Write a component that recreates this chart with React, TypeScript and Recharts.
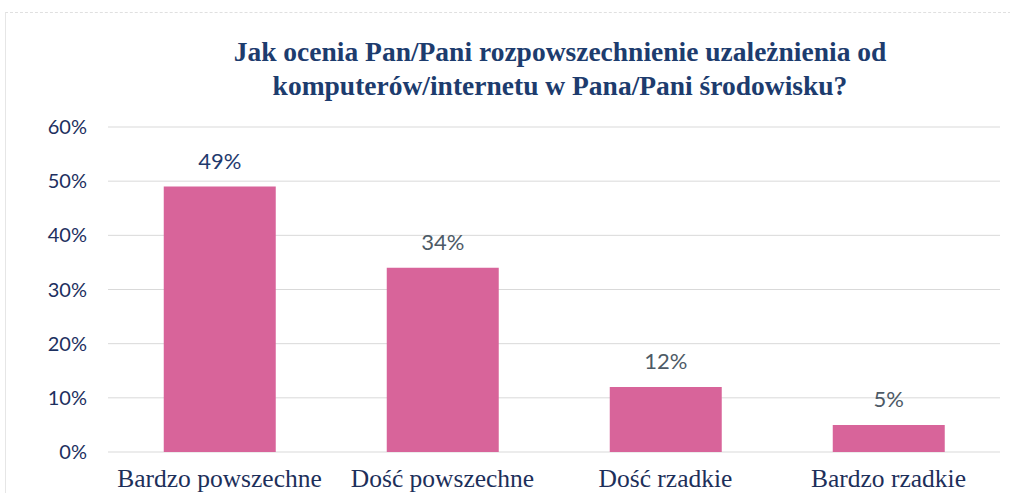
import React from "react";
import { BarChart, Bar, XAxis, YAxis, CartesianGrid, LabelList } from "recharts";

const categories = ["Bardzo powszechne", "Dość powszechne", "Dość rzadkie", "Bardzo rzadkie"];
const values = [49, 34, 12, 5];
const yTicks = [0, 10, 20, 30, 40, 50, 60];
const labelColors = ["#1f3a6e", "#4d5a66", "#4d5a66", "#4d5a66"];
const titleLines = [
  "Jak ocenia Pan/Pani rozpowszechnienie uzależnienia od",
  "komputerów/internetu w Pana/Pani środowisku?",
];

const data = categories.map((c, i) => ({ name: c, value: values[i] }));

const ValueLabel = (props: any) => {
  const { x, y, width, value, index } = props;
  return (
    <text
      x={x + width / 2}
      y={y - 18}
      textAnchor="middle"
      fontFamily="Lato, 'Noto Sans', sans-serif"
      fontSize={22}
      fill={labelColors[index] || "#4d5a66"}
    >
      {value}%
    </text>
  );
};

export default function App() {
  return (
    <div
      style={{
        position: "absolute",
        left: 0,
        top: 0,
        width: 1010,
        height: 493,
        background: "#fff",
        overflow: "hidden",
      }}
    >
      <div
        style={{
          position: "absolute",
          left: 5,
          top: 12,
          width: 1010,
          height: 490,
          borderLeft: "1px solid #e6e6e6",
          borderTop: "1px dashed #e0e0e0",
        }}
      />
      <div
        style={{
          position: "absolute",
          left: 60,
          width: 1000,
          top: 35,
          textAlign: "center",
          fontFamily: "'Liberation Serif', 'DejaVu Serif', serif",
          fontWeight: "bold",
          fontSize: 27.5,
          lineHeight: "34px",
          color: "#1d3c6e",
        }}
      >
        {titleLines.map((l, i) => (
          <div key={i}>{l}</div>
        ))}
      </div>
      <BarChart
        width={1010}
        height={493}
        data={data}
        margin={{ top: 127, right: 10, left: 0, bottom: 0 }}
        barCategoryGap="25%"
        style={{ position: "absolute", left: 0, top: 0 }}
      >
        <CartesianGrid horizontal vertical={false} stroke="#d9d9d9" />
        <XAxis
          dataKey="name"
          height={41}
          axisLine={false}
          tickLine={false}
          tickSize={0}
          tickMargin={17}
          interval={0}
          tick={{
            fill: "#1d2f5a",
            fontSize: 25.5,
            fontFamily: "'Liberation Serif', 'DejaVu Serif', serif",
          }}
        />
        <YAxis
          width={108}
          domain={[0, 60]}
          ticks={yTicks}
          axisLine={false}
          tickLine={false}
          tickSize={0}
          tickMargin={21}
          tickFormatter={(v: number) => `${v}%`}
          tick={{
            fill: "#1d3060",
            fontSize: 20,
            fontFamily: "Lato, 'Noto Sans', sans-serif",
          }}
        />
        <Bar dataKey="value" fill="#d8649a" isAnimationActive={false}>
          <LabelList dataKey="value" content={ValueLabel} />
        </Bar>
      </BarChart>
    </div>
  );
}
